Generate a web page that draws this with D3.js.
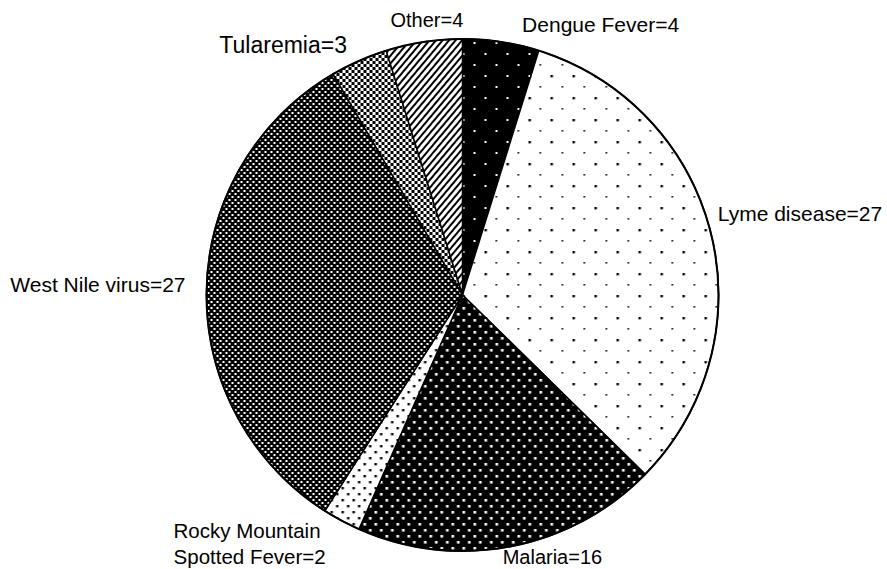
<!DOCTYPE html>
<html>
<head>
<meta charset="utf-8">
<script src="https://cdn.jsdelivr.net/npm/d3@7"></script>
<style>
  html, body { margin: 0; padding: 0; background: #fff; }
  svg { display: block; }
  text { font-family: "Liberation Sans", Arial, sans-serif; fill: #000; }
</style>
</head>
<body>
<svg id="chart" width="887" height="569"></svg>
<script>
// ---- data ----
const categories = ["Dengue Fever", "Lyme disease", "Malaria", "Rocky Mountain Spotted Fever", "West Nile virus", "Tularemia", "Other"];
const values = [4, 27, 16, 2, 27, 3, 4];
const labelLines = [
  ["Dengue Fever=4"],
  ["Lyme disease=27"],
  ["Malaria=16"],
  ["Rocky Mountain", "Spotted Fever=2"],
  ["West Nile virus=27"],
  ["Tularemia=3"],
  ["Other=4"]
];

// ---- layout (kept apart from data) ----
const W = 887, H = 569;
const cx = 462.5, cy = 295, R = 256;
const patternIds = ["pDengue", "pLyme", "pMalaria", "pRocky", "pWestNile", "pTularemia", "pOther"];
const labelStyle = [
  { dx: 21,  dy: -10, anchor: "start",  size: 21 },
  { dx: 7,   dy: -12, anchor: "start",  size: 21 },
  { dx: -8,  dy: 18,  anchor: "start",  size: 20 },
  { dx: -168,dy: 17,  anchor: "start",  size: 20.5 },
  { dx: -21, dy: 2,   anchor: "end",    size: 21 },
  { dx: -12, dy: -8,  anchor: "end",    size: 23 },
  { dx: 3,   dy: -15, anchor: "middle", size: 20 }
];

const svg = d3.select("#chart");
const defs = svg.append("defs");

function dotPattern(id, bg, fg, tw, th, dots) {
  const p = defs.append("pattern").attr("id", id)
    .attr("patternUnits", "userSpaceOnUse").attr("width", tw).attr("height", th);
  p.append("rect").attr("width", tw).attr("height", th).attr("fill", bg);
  dots.forEach(d => p.append("rect").attr("x", d[0]).attr("y", d[1])
    .attr("width", d[2]).attr("height", d[2]).attr("fill", fg));
}
dotPattern("pDengue", "#000", "#fff", 22, 22, [[0, 0, 2], [11, 11, 2]]);
dotPattern("pLyme", "#fff", "#000", 22, 22, [[0, 0, 2.4], [11, 11, 1.6]]);
dotPattern("pMalaria", "#000", "#fff", 11, 12, [[0, 0, 2.6], [5.5, 6, 2.6]]);
dotPattern("pRocky", "#fff", "#000", 11, 12, [[0, 0, 2.4], [5.5, 6, 2.4]]);
dotPattern("pWestNile", "#000", "#fff", 6, 6, [[0, 0, 2], [3, 3, 2]]);
dotPattern("pTularemia", "#fff", "#000", 6, 6, [[0, 0, 3], [3, 3, 3]]);
{
  const p = defs.append("pattern").attr("id", "pOther")
    .attr("patternUnits", "userSpaceOnUse").attr("width", 5).attr("height", 5)
    .attr("patternTransform", "rotate(40)");
  p.append("rect").attr("width", 5).attr("height", 5).attr("fill", "#fff");
  p.append("rect").attr("width", 2).attr("height", 5).attr("fill", "#000");
}

const pie = d3.pie().sort(null).value(d => d.value)
  .startAngle(0).endAngle(2 * Math.PI);
const data = categories.map((c, i) => ({ cat: c, value: values[i], i }));
const arcs = pie(data);
const arc = d3.arc().innerRadius(0).outerRadius(R);

const g = svg.append("g").attr("transform", `translate(${cx},${cy})`);
g.selectAll("path.slice").data(arcs).join("path")
  .attr("class", "slice")
  .attr("d", arc)
  .attr("fill", d => `url(#${patternIds[d.data.i]})`)
  .attr("stroke", "#000").attr("stroke-width", 1.5).attr("stroke-linejoin", "round");

g.append("circle").attr("r", R).attr("fill", "none").attr("stroke", "#000").attr("stroke-width", 2);

// labels
arcs.forEach(d => {
  const a = (d.startAngle + d.endAngle) / 2;
  const px = R * Math.sin(a), py = -R * Math.cos(a);
  const st = labelStyle[d.data.i];
  const t = g.append("text")
    .attr("x", px + st.dx).attr("y", py + st.dy)
    .attr("text-anchor", st.anchor)
    .style("font-size", st.size + "px");
  labelLines[d.data.i].forEach((line, k) => {
    t.append("tspan").attr("x", px + st.dx).attr("dy", k === 0 ? 0 : 26).text(line);
  });
});
</script>
</body>
</html>
